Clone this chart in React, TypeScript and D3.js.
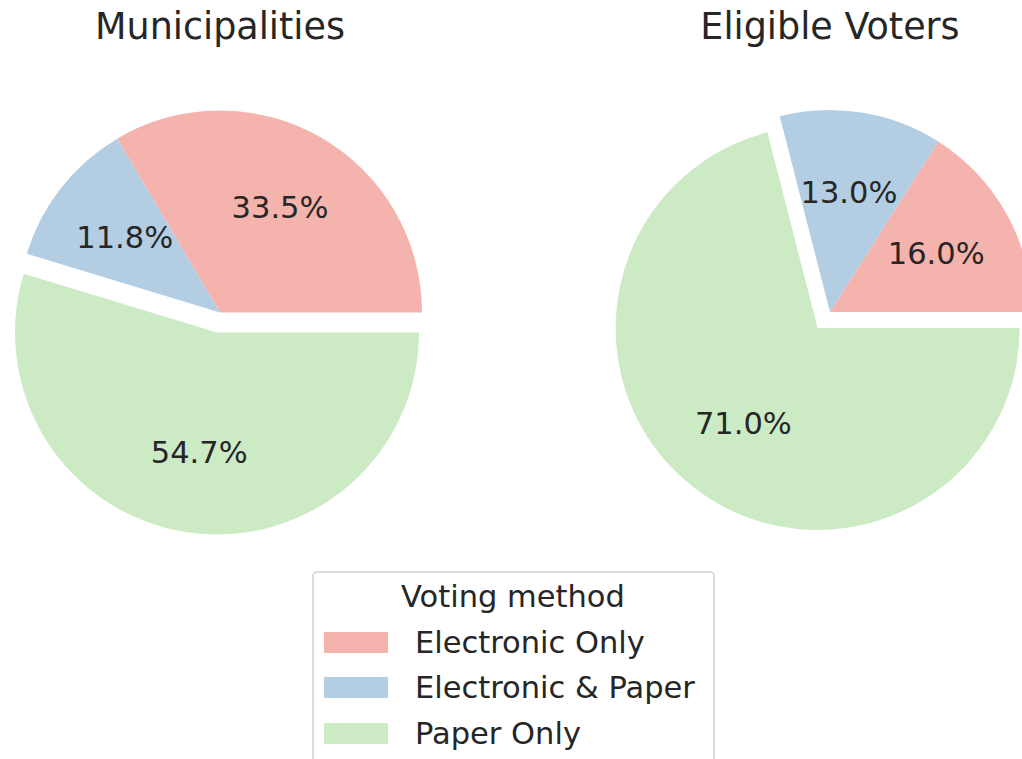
import React from "react";
import * as d3 from "d3";

const categories = ["Electronic Only", "Electronic & Paper", "Paper Only"];
const municipalities = [33.5, 11.8, 54.7];
const voters = [16.0, 13.0, 71.0];
const explode = [0, 0, 0.1];
const colors = ["#f5b3ad", "#b3cde3", "#ccebc5"];
const titles = ["Municipalities", "Eligible Voters"];
const legendTitle = "Voting method";

const FONT = "DejaVu Sans, Liberation Sans, sans-serif";
const TEXT = "#262626";

function Pie({ values, cx, cy, r, title }: { values: number[]; cx: number; cy: number; r: number; title: string }) {
  const pie = d3
    .pie<number>()
    .sort(null)
    .value((d) => d)
    .startAngle(Math.PI / 2)
    .endAngle(Math.PI / 2 - 2 * Math.PI);
  const arcs = pie(values);
  const arc = d3.arc<d3.PieArcDatum<number>>().innerRadius(0).outerRadius(r);
  const lab = d3.arc<d3.PieArcDatum<number>>().innerRadius(r * 0.6).outerRadius(r * 0.6);
  return (
    <g>
      <text x={cx} y={39} textAnchor="middle" fontSize={36.5} fontFamily={FONT} fill={TEXT}>
        {title}
      </text>
      {arcs.map((a, i) => {
        const mid = (a.startAngle + a.endAngle) / 2;
        const off = explode[i] * r;
        const dx = Math.sin(mid) * off;
        const dy = -Math.cos(mid) * off;
        return (
          <g key={i} transform={`translate(${cx + dx},${cy + dy})`}>
            <path d={arc(a) || ""} fill={colors[i]} />
          </g>
        );
      })}
      {arcs.map((a, i) => {
        const mid = (a.startAngle + a.endAngle) / 2;
        const off = explode[i] * r;
        const dx = Math.sin(mid) * off;
        const dy = -Math.cos(mid) * off;
        const [lx, ly] = lab.centroid(a);
        return (
          <text
            key={"t" + i}
            x={cx + dx + lx}
            y={cy + dy + ly}
            textAnchor="middle"
            dominantBaseline="central"
            fontSize={30.5}
            fontFamily={FONT}
            fill={TEXT}
          >
            {values[i].toFixed(1)}%
          </text>
        );
      })}
    </g>
  );
}

export default function App() {
  const W = 1022;
  const H = 759;
  const r = 202;
  const legendY = [642.5, 687.5, 733.5];
  return (
    <svg
      width={W}
      height={H}
      style={{ position: "absolute", left: 0, top: 0, background: "#fff" }}
    >
      <rect x={0} y={0} width={W} height={H} fill="#fff" />
      <Pie values={municipalities} cx={220} cy={312.5} r={r} title={titles[0]} />
      <Pie values={voters} cx={830} cy={312} r={r} title={titles[1]} />
      <rect x={313} y={572} width={401} height={210} rx={4} fill="#fff" stroke="#d0d0d0" strokeWidth={1.5} />
      <text x={513} y={607} textAnchor="middle" fontSize={30.5} fontFamily={FONT} fill={TEXT}>
        {legendTitle}
      </text>
      {categories.map((c, i) => (
        <g key={c}>
          <rect x={324} y={legendY[i] - 10.5} width={64} height={21} fill={colors[i]} />
          <text x={415} y={legendY[i] + 10.5} fontSize={30.5} fontFamily={FONT} fill={TEXT}>
            {c}
          </text>
        </g>
      ))}
    </svg>
  );
}
